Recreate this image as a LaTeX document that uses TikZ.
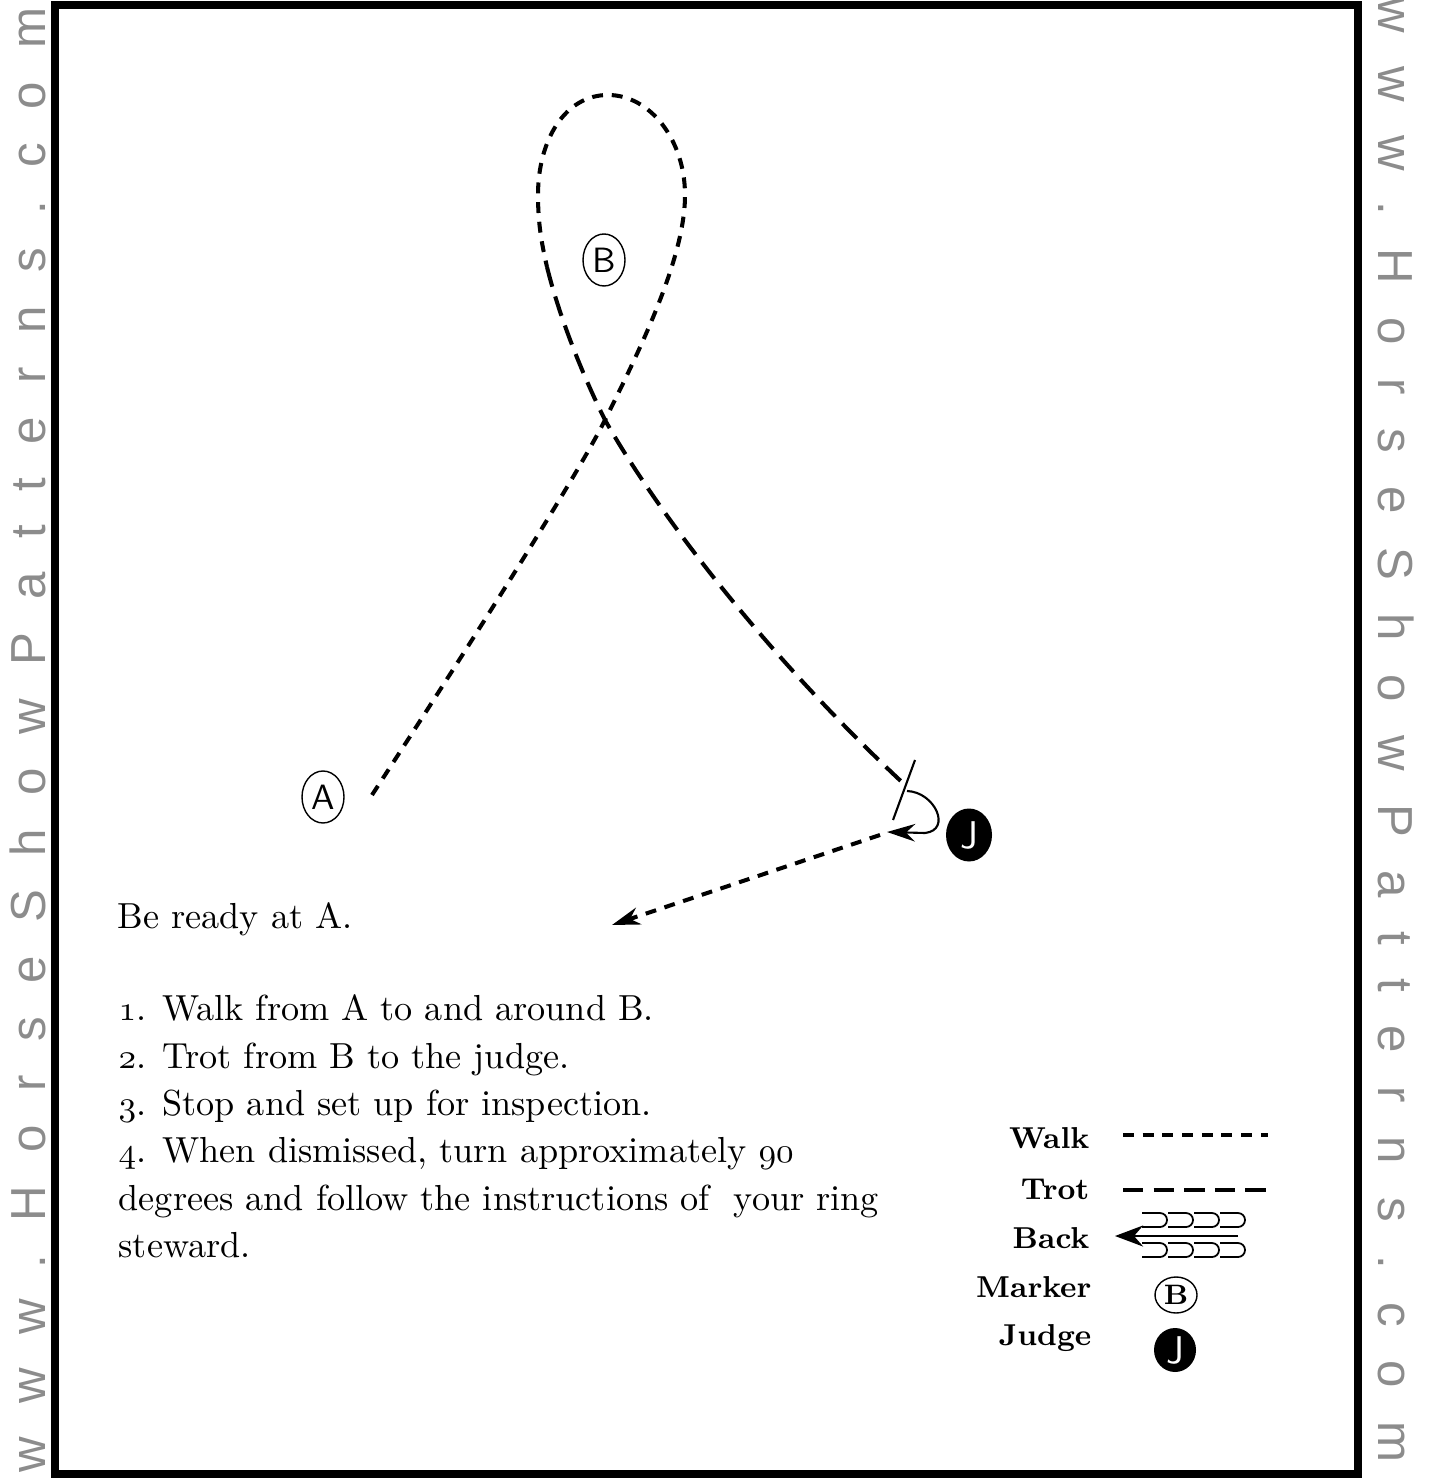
\documentclass[tikz,border=0pt]{standalone}
\usepackage{fontspec}
\newfontfamily\wmfont{Liberation Sans}
\usetikzlibrary{positioning,arrows.meta,shapes.geometric}
\newcommand\osn[1]{{\usefont{OML}{cmm}{m}{it}#1}}

\begin{document}
\begin{tikzpicture}[>={Stealth[length=8pt,width=5pt]},
    walk/.style={line width=1.15pt,dash pattern=on 3.1pt off 2.5pt},
    trot/.style={line width=1.15pt,dash pattern=on 5.8pt off 2.9pt},
    thin line/.style={line width=0.6pt},
    marker node/.style={ellipse,draw,line width=0.4pt,inner sep=0pt,minimum width=0.42cm,minimum height=0.52cm,font=\sffamily\fontsize{10}{10}\selectfont},
    judge node/.style={ellipse,fill=black,text=white,inner sep=0pt,minimum width=0.46cm,minimum height=0.53cm,font=\sffamily\fontsize{11}{11}\selectfont},
    legend label/.style={anchor=base east,inner sep=0pt,font=\bfseries\fontsize{8.6}{8.6}\selectfont},
    mark text/.style={anchor=base,text=black!45,font=\wmfont\fontsize{14}{14}\selectfont}]

\useasboundingbox (0,0) rectangle (14.35,-14.82);

% site name down both sides
\node[mark text,rotate=90] (siteL) at (0.45,-7.40) {\addfontfeature{LetterSpace=68}www.HorseShowPatterns.com};
\node[mark text,rotate=-90] (siteR) at (13.78,-7.30) {\addfontfeature{LetterSpace=68}www.HorseShowPatterns.com};

\draw[line width=0.08cm] (0.55,-0.05) rectangle (13.58,-14.74);

% markers
\node[marker node] (A) at (3.23,-7.97) {A};
\node[marker node] (B) at (6.04,-2.60) {B};
\node[judge node] (J) at (9.69,-8.35) {J};

\coordinate (walkstart) at (3.72,-7.95);
\coordinate (cross) at (6.05,-4.20);
\coordinate (loopend) at (5.47,-2.67);
\coordinate (stop) at (9.07,-7.91);
\coordinate (stopin) at (9.05,-7.85);
\coordinate (turnend) at (9.25,-8.33);
\coordinate (turntip) at (8.87,-8.32);
\coordinate (exitstart) at (8.80,-8.35);
\coordinate (exittip) at (6.12,-9.25);

% walk to and around B
\draw[walk] (walkstart) .. controls (4.60,-6.60) and (5.75,-4.80) .. (cross)
  .. controls (6.45,-3.40) and (6.85,-2.55) .. (6.85,-1.95)
  .. controls (6.85,-1.40) and (6.50,-0.95) .. (6.08,-0.95)
  .. controls (5.65,-0.95) and (5.38,-1.40) .. (5.38,-1.95)
  .. controls (5.38,-2.25) and (5.42,-2.45) .. (loopend);
% trot to the judge
\draw[trot] (loopend) .. controls (5.60,-3.20) and (5.85,-3.80) .. (cross)
  .. controls (6.50,-5.00) and (7.55,-6.45) .. (stopin);

% stop, turn and leave
\draw[thin line] (9.15,-7.60) -- (8.93,-8.20);
\draw[thin line,->] (stop) .. controls (9.35,-7.92) and (9.52,-8.30) .. (turnend) -- (turntip);
\draw[walk,->] (exitstart) -- (exittip);

\node[anchor=base west,inner sep=0pt,font=\fontsize{10.3}{13.5}\selectfont] (ready) at (1.17,-9.28) {Be ready at A.};
\node[anchor=north west,inner sep=0pt,align=left,font=\fontsize{10.3}{13.5}\selectfont] (steps) at (1.18,-9.94)
  {\osn{1}. Walk from A to and around B.\\
   \osn{2}. Trot from B to the judge.\\
   \osn{3}. Stop and set up for inspection.\\
   \osn{4}. When dismissed, turn approximately \osn{90}\\
   degrees and follow the instructions of\ \ your ring\\
   steward.};

% legend
\node[legend label] (lwalk) at (10.90,-11.48) {Walk};
\node[legend label] (ltrot) at (10.90,-11.99) {Trot};
\node[legend label] (lback) at (10.90,-12.48) {Back};
\node[legend label] (lmark) at (10.92,-12.97) {Marker};
\node[legend label] (ljudge) at (10.92,-13.45) {Judge};

\draw[walk] (11.23,-11.35) -- (12.68,-11.35);
\draw[trot] (11.23,-11.90) -- (12.68,-11.90);
\draw[thin line,->,>={Stealth[length=8pt,width=6pt]}] (12.38,-12.36) -- (11.15,-12.36);
\foreach \x in {11.42,11.68,11.94,12.20}{
  \draw[line width=0.5pt] (\x,-12.13) -- ++(0.18,0) arc[start angle=90,end angle=-90,radius=0.07] -- ++(-0.18,0);
  \draw[line width=0.5pt] (\x,-12.43) -- ++(0.18,0) arc[start angle=90,end angle=-90,radius=0.07] -- ++(-0.18,0);
}
\node[marker node,minimum width=0.42cm,minimum height=0.36cm,font=\bfseries\fontsize{8}{8}\selectfont] (lgB) at (11.76,-12.95) {B};
\node[judge node,minimum width=0.42cm,minimum height=0.44cm] (lgJ) at (11.75,-13.50) {J};
\end{tikzpicture}
\end{document}
